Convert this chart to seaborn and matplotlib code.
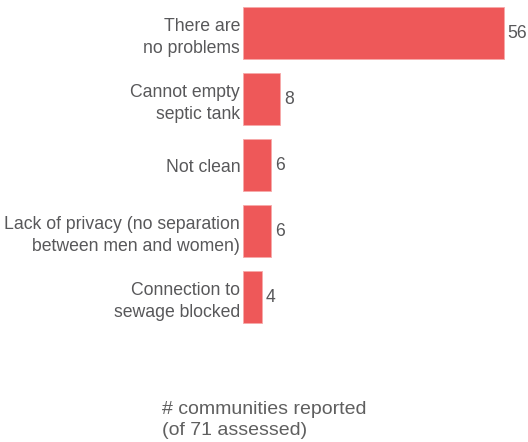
import matplotlib
matplotlib.use("Agg")
import matplotlib.pyplot as plt
import seaborn as sns
import pandas as pd

categories = ["There are\nno problems", "Cannot empty\nseptic tank", "Not clean",
              "Lack of privacy (no separation\nbetween men and women)",
              "Connection to\nsewage blocked"]
values = [56, 8, 6, 6, 4]
footer = "# communities reported\n(of 71 assessed)"

sns.set_theme(style="white")
plt.rcParams['font.family'] = ['Liberation Sans', 'DejaVu Sans']

df = pd.DataFrame({"cat": categories, "val": values})

fig = plt.figure(figsize=(5.28, 4.42), dpi=100)
W, H = 528, 442
left, right, top, bottom = 243, 520, 0, 330
ax = fig.add_axes([left / W, 1 - bottom / H, (right - left) / W, (bottom - top) / H])

sns.barplot(data=df, x="val", y="cat", orient="h", color="#EE5859", saturation=1,
            width=0.8, ax=ax, edgecolor="#F7A9A9", linewidth=0.6)

ax.set_xlim(0, 56 * (right - left) / 261)
ax.set_ylim(4.5, -0.5)
ax.set_xlabel("")
ax.set_ylabel("")
ax.set_xticks([])
for s in ax.spines.values():
    s.set_visible(False)
ax.tick_params(axis="y", length=0, pad=2, labelsize=12.7, labelcolor="#58585A")
for t in ax.get_yticklabels():
    t.set_horizontalalignment("right")
    t.set_linespacing(1.4)

for i, v in enumerate(values):
    ax.text(v + 0.8, i, str(v), va="center", ha="left", fontsize=12.7, color="#58585A")

fig.text(162 / W, 1 - 420 / H, footer, ha="left", va="center", fontsize=14,
         color="#5F5F5F", linespacing=1.3)

fig.savefig("out.png", dpi=100)
